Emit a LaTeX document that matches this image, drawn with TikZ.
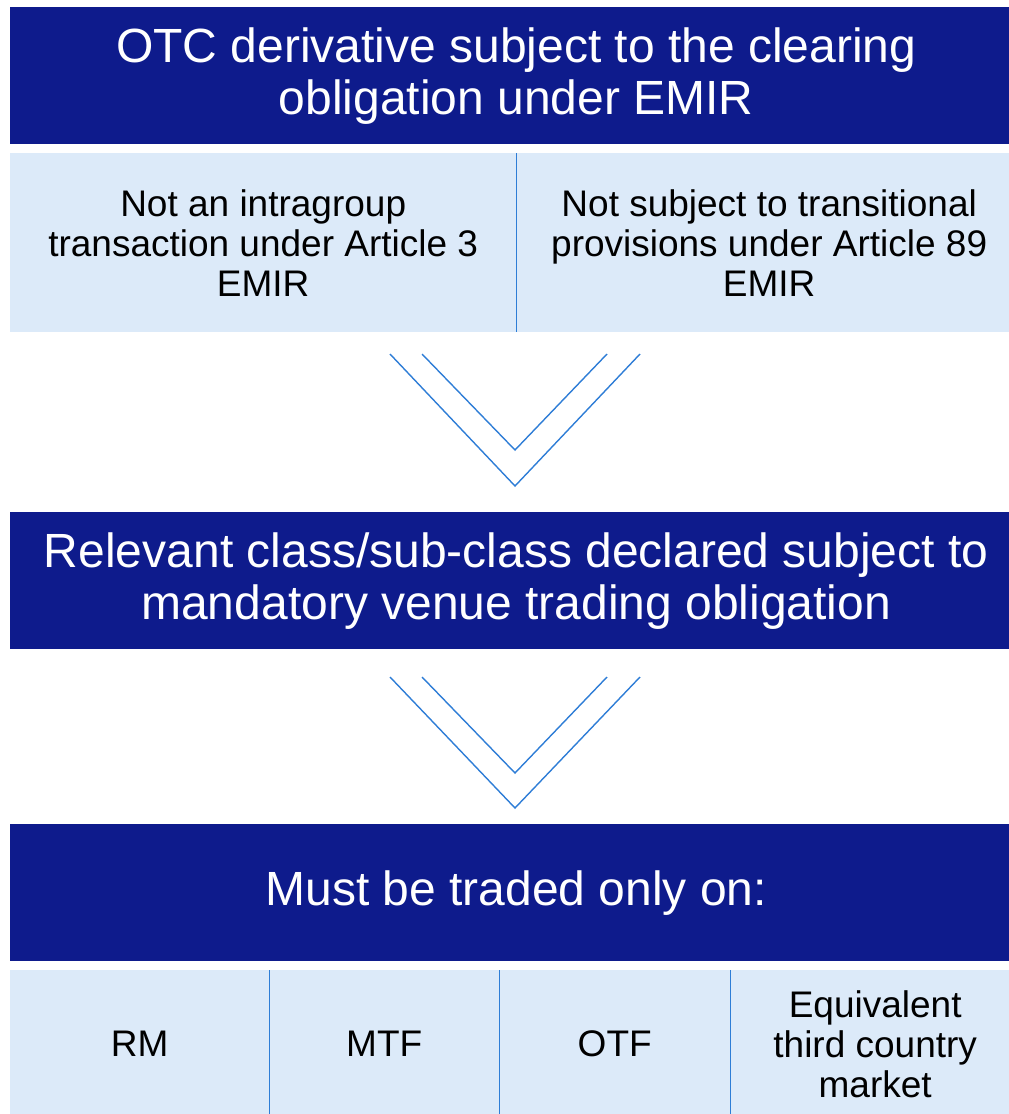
\documentclass[tikz,border=0pt]{standalone}
\usepackage{fontspec}
\setmainfont{Liberation Sans}
\usetikzlibrary{calc}
\definecolor{navy}{RGB}{14,27,140}
\definecolor{pale}{RGB}{220,234,249}
\definecolor{rule}{RGB}{46,125,214}
\begin{document}
\begin{tikzpicture}[x=1pt,y=-1pt,
  head/.style={fill=navy,text=white,inner sep=0pt,anchor=north west,align=center,
    minimum width=1012pt,minimum height=137pt,font=\fontsize{48}{52}\selectfont},
  cell/.style={fill=pale,text=black,inner sep=0pt,anchor=north west,align=center,
    font=\fontsize{37}{40}\selectfont},
  sep/.style={draw=rule,line width=1.4pt},
  chev/.style={draw=rule,line width=1.4pt,line join=miter}]
\useasboundingbox (0,0) rectangle (1009,1114);
\clip (0,0) rectangle (1009,1114);

% first condition
\node[head] (h1) at (10,7) {OTC derivative subject to the clearing\\obligation under EMIR};
\node[cell,minimum width=506pt,minimum height=179pt] (c1) at (10,153)
  {Not an intragroup\\transaction under Article 3\\EMIR};
\node[cell,minimum width=506pt,minimum height=179pt] (c2) at (516,153)
  {Not subject to transitional\\provisions under Article 89\\EMIR};
\draw[sep] (c1.north east) -- (c1.south east);

% chevron down to the trading obligation
\coordinate (v1) at (515,354);
\draw[chev] ($(v1)+(-125,0)$) -- ($(v1)+(0,132)$) -- ($(v1)+(125,0)$);
\draw[chev] ($(v1)+(-93,0)$) -- ($(v1)+(0,96)$) -- ($(v1)+(92,0)$);

% second condition
\node[head] (h2) at (10,512) {Relevant class/sub-class declared subject to\\mandatory venue trading obligation};

% chevron down to the venues
\coordinate (v2) at (515,677);
\draw[chev] ($(v2)+(-125,0)$) -- ($(v2)+(0,131)$) -- ($(v2)+(125,0)$);
\draw[chev] ($(v2)+(-93,0)$) -- ($(v2)+(0,96)$) -- ($(v2)+(92,0)$);

% result
\node[head] (h3) at (10,824) {Must be traded only on:};
\node[cell,minimum width=259pt,minimum height=148pt] (d1) at (10,970) {RM};
\node[cell,minimum width=230pt,minimum height=148pt] (d2) at (269,970) {MTF};
\node[cell,minimum width=231pt,minimum height=148pt] (d3) at (499,970) {OTF};
\node[cell,minimum width=290pt,minimum height=148pt] (d4) at (730,970)
  {Equivalent\\third country\\market};
\draw[sep] (d1.north east) -- (d1.south east);
\draw[sep] (d2.north east) -- (d2.south east);
\draw[sep] (d3.north east) -- (d3.south east);
\end{tikzpicture}
\end{document}
